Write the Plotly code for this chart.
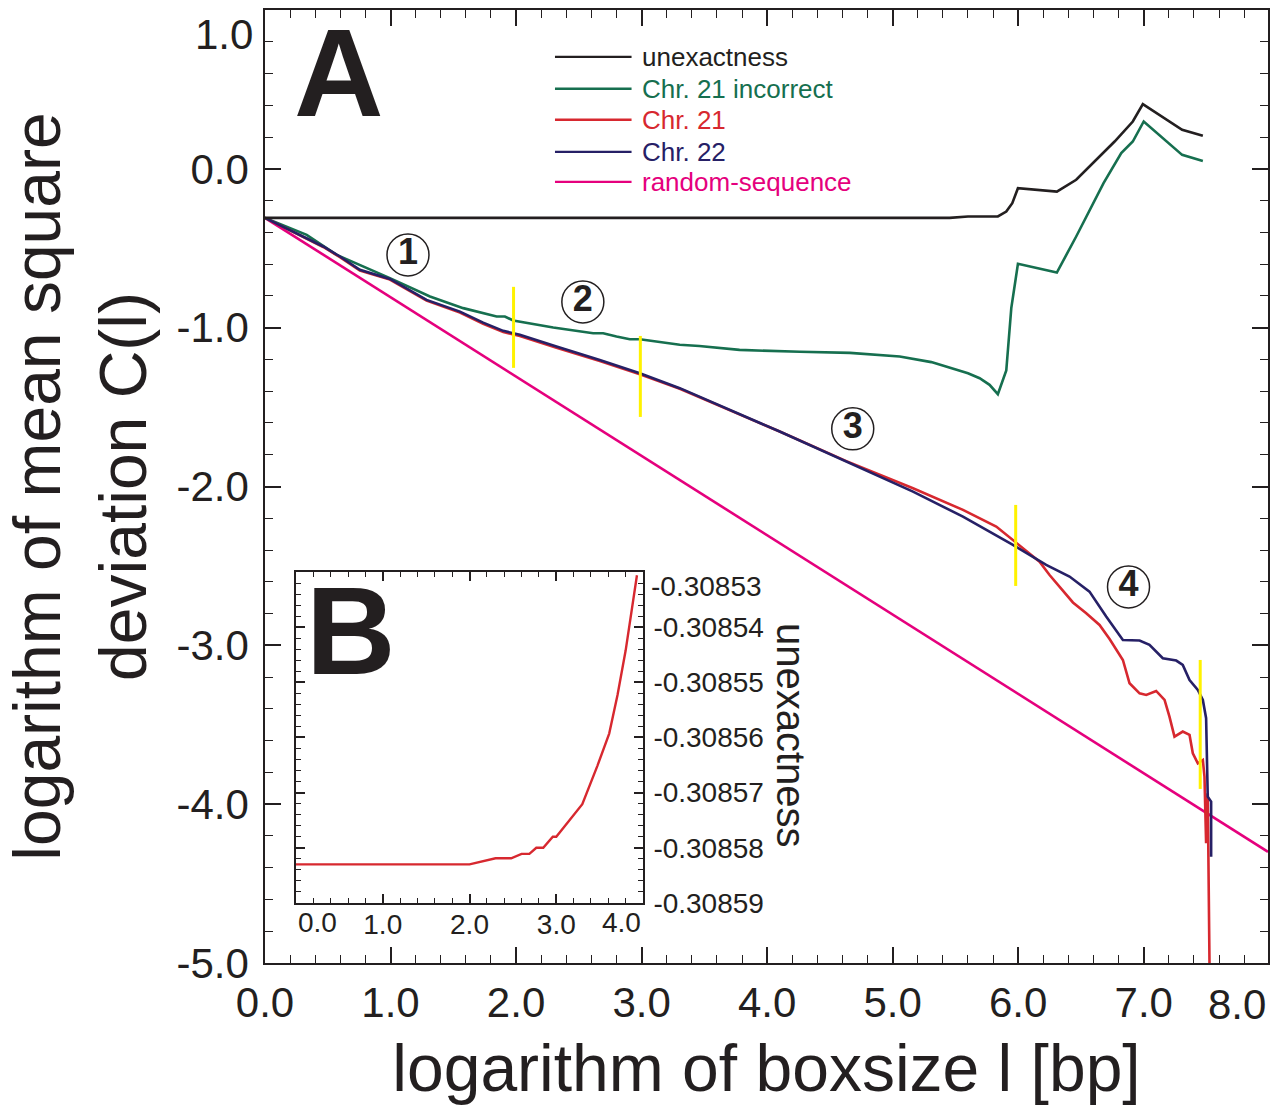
import plotly.graph_objects as go

FONT = "Liberation Sans, Arial, Helvetica, sans-serif"
C_BLACK = "#231f20"
C_GREEN = "#166f4f"
C_RED = "#d7282f"
C_NAVY = "#262066"
C_MAG = "#e5007d"
C_YEL = "#fff200"

# ---------------- data ----------------
unex_x = [0, 5.454, 5.60, 5.838, 5.905, 5.953, 5.998, 6.308, 6.462, 6.768, 6.913, 6.993, 7.306, 7.471]
unex_y = [-0.30858, -0.30858, -0.300, -0.300, -0.269, -0.216, -0.122, -0.143, -0.069, 0.172, 0.298, 0.407, 0.246, 0.208]

inc_x = [0, 0.332, 0.571, 0.849, 0.995, 1.314, 1.579, 1.845, 1.911, 1.977, 2.296, 2.614, 2.694, 2.800,
         2.906, 2.986, 3.304, 3.46, 3.78, 4.26, 4.66, 5.056, 5.308, 5.60, 5.693, 5.772, 5.838, 5.905,
         5.945, 5.998, 6.308, 6.462, 6.680, 6.821, 6.913, 7.0, 7.306, 7.471]
inc_y = [-0.3086, -0.416, -0.542, -0.636, -0.688, -0.804, -0.877, -0.930, -0.930, -0.955, -0.999, -1.035,
         -1.035, -1.056, -1.073, -1.073, -1.108, -1.115, -1.14, -1.152, -1.159, -1.182, -1.217, -1.287,
         -1.318, -1.360, -1.419, -1.270, -0.877, -0.598, -0.653, -0.426, -0.090, 0.099, 0.172, 0.298,
         0.088, 0.050]

chr21_x = [0, 0.464, 0.597, 0.756, 0.995, 1.287, 1.553, 1.738, 1.898, 2.030, 2.322, 2.667, 2.986, 3.304,
           4.10, 4.631, 5.162, 5.56, 5.825, 5.958, 6.170, 6.25, 6.369, 6.436, 6.542, 6.648, 6.728, 6.834,
           6.887, 6.967, 7.02, 7.099, 7.166, 7.205, 7.245, 7.311, 7.365, 7.391, 7.431, 7.471, 7.484,
           7.497, 7.51, 7.524]
chr21_y = [-0.3086, -0.492, -0.556, -0.640, -0.697, -0.830, -0.905, -0.975, -1.027, -1.052, -1.126, -1.210,
           -1.294, -1.385, -1.654, -1.840, -2.011, -2.147, -2.252, -2.336, -2.473, -2.557, -2.672, -2.730,
           -2.798, -2.872, -2.960, -3.092, -3.239, -3.302, -3.312, -3.287, -3.344, -3.449, -3.575, -3.543,
           -3.564, -3.680, -3.743, -3.722, -3.827, -4.246, -3.931, -5.0]

chr22_x = [0, 0.464, 0.597, 0.756, 0.995, 1.287, 1.553, 1.738, 1.898, 2.030, 2.322, 2.667, 2.986, 3.304,
           4.10, 4.631, 5.162, 5.56, 5.958, 6.223, 6.409, 6.568, 6.701, 6.834, 6.967, 7.046, 7.152, 7.259,
           7.311, 7.365, 7.431, 7.471, 7.497, 7.510, 7.537, 7.537]
chr22_y = [-0.3086, -0.489, -0.552, -0.636, -0.693, -0.825, -0.899, -0.968, -1.020, -1.045, -1.119, -1.203,
           -1.287, -1.381, -1.654, -1.843, -2.032, -2.19, -2.368, -2.494, -2.567, -2.662, -2.819, -2.966,
           -2.970, -2.997, -3.081, -3.096, -3.123, -3.218, -3.281, -3.344, -3.459, -3.953, -3.984, -4.331]

rand_x = [0, 7.99]
rand_y = [-0.3086, -4.30]

# yellow region separators
sep_x = [1.98, 2.99, 5.98, 7.45]
sep_y0 = [-0.743, -1.052, -2.116, -3.092]
sep_y1 = [-1.253, -1.562, -2.626, -3.904]

# circled region numbers
reg_x = [1.139, 2.532, 4.682, 6.879]
reg_y = [-0.542, -0.838, -1.637, -2.632]
reg_lab = ["1", "2", "3", "4"]

# inset B: unexactness (zoom)
ins_x = [0, 2.0, 2.30, 2.48, 2.60, 2.69, 2.77, 2.85, 2.96, 3.00, 3.30, 3.475, 3.61, 3.706, 3.80, 3.93]
ins_y = [-0.3085830, -0.3085830, -0.3085819, -0.3085819, -0.3085811, -0.3085811, -0.3085800, -0.3085800,
         -0.3085780, -0.3085780, -0.3085721, -0.3085651, -0.3085593, -0.3085523, -0.3085442, -0.3085306]

# tick labels
main_x_ticks = [0, 1, 2, 3, 4, 5, 6, 7]
main_x_text = ["0.0", "1.0", "2.0", "3.0", "4.0", "5.0", "6.0", "7.0"]
main_y_ticks = [-5, -4, -3, -2, -1, 0]
main_y_text = ["-5.0", "-4.0", "-3.0", "-2.0", "-1.0", "0.0"]
ins_x_ticks = [1, 2, 3]
ins_x_text = ["1.0", "2.0", "3.0"]
ins_y_ticks = [-0.30859, -0.30858, -0.30857, -0.30856, -0.30855, -0.30854]
ins_y_text = ["-0.30859", "-0.30858", "-0.30857", "-0.30856", "-0.30855", "-0.30854"]

legend_names = ["unexactness", "Chr. 21 incorrect", "Chr. 21", "Chr. 22", "random-sequence"]
legend_colors = [C_BLACK, C_GREEN, C_RED, C_NAVY, C_MAG]
legend_y = [0.705, 0.504, 0.309, 0.107, -0.082]

# ---------------- figure ----------------
fig = go.Figure()
LW = 2.6
fig.add_trace(go.Scatter(x=rand_x, y=rand_y, mode="lines", line=dict(color=C_MAG, width=LW), showlegend=False))
fig.add_trace(go.Scatter(x=inc_x, y=inc_y, mode="lines", line=dict(color=C_GREEN, width=LW), showlegend=False))
fig.add_trace(go.Scatter(x=chr21_x, y=chr21_y, mode="lines", line=dict(color=C_RED, width=LW), showlegend=False))
fig.add_trace(go.Scatter(x=chr22_x, y=chr22_y, mode="lines", line=dict(color=C_NAVY, width=LW), showlegend=False))
fig.add_trace(go.Scatter(x=unex_x, y=unex_y, mode="lines", line=dict(color=C_BLACK, width=LW), showlegend=False))

yx, yy = [], []
for xv, a, b in zip(sep_x, sep_y0, sep_y1):
    yx += [xv, xv, None]
    yy += [a, b, None]
fig.add_trace(go.Scatter(x=yx, y=yy, mode="lines", line=dict(color=C_YEL, width=3), showlegend=False))

fig.add_trace(go.Scatter(
    x=reg_x, y=reg_y, mode="markers+text",
    marker=dict(symbol="circle-open", size=42, color=C_BLACK, line=dict(width=1.5, color=C_BLACK)),
    text=["<b>%s</b>" % t for t in reg_lab], textposition="middle center",
    textfont=dict(family=FONT, size=36, color=C_BLACK), showlegend=False))

fig.add_trace(go.Scatter(x=ins_x, y=ins_y, mode="lines", xaxis="x2", yaxis="y2",
                         line=dict(color=C_RED, width=2.4), showlegend=False))

# legend (manual, to match line-sample length and coloured labels)
shapes = []
annotations = []
for name, col, ly in zip(legend_names, legend_colors, legend_y):
    shapes.append(dict(type="line", xref="x", yref="y", x0=2.31, x1=2.92, y0=ly, y1=ly,
                       line=dict(color=col, width=2.4)))
    annotations.append(dict(xref="x", yref="y", x=2.985, y=ly, text=name, showarrow=False,
                            xanchor="left", yanchor="middle", font=dict(family=FONT, size=26, color=col)))

tick_font = dict(family=FONT, size=42, color=C_BLACK)
ins_font = dict(family=FONT, size=28, color=C_BLACK)

IN_X0, IN_X1 = 0.0309, 0.3769
IN_Y0, IN_Y1 = 0.063, 0.4103

# clipped end labels, drawn inside as in the original
annotations += [
    dict(xref="paper", yref="paper", x=0, y=1.0, text="1.0", showarrow=False, xanchor="right", yanchor="top",
         xshift=-10, yshift=1, font=tick_font),
    dict(xref="paper", yref="paper", x=1.0, y=0, text="8.0", showarrow=False, xanchor="right", yanchor="top",
         yshift=-16, font=tick_font),
    dict(xref="paper", yref="paper", x=IN_X0, y=IN_Y0, text="0.0", showarrow=False, xanchor="left",
         yanchor="top", yshift=-2, font=ins_font),
    dict(xref="paper", yref="paper", x=IN_X1, y=IN_Y0, text="4.0", showarrow=False, xanchor="right",
         yanchor="top", yshift=-2, font=ins_font),
    dict(xref="paper", yref="paper", x=IN_X1, y=IN_Y1, text="-0.30853", showarrow=False, xanchor="left",
         yanchor="top", xshift=6, yshift=3, font=ins_font),
    dict(xref="paper", yref="paper", x=0.5244, y=0.2382, text="unexactness", textangle=90, showarrow=False,
         xanchor="center", yanchor="middle", font=dict(family=FONT, size=40, color=C_BLACK)),
    dict(xref="paper", yref="paper", x=0.0733, y=0.9337, text="<b>A</b>", showarrow=False,
         xanchor="center", yanchor="middle", font=dict(family=FONT, size=124, color=C_BLACK)),
    dict(xref="paper", yref="paper", x=0.0862, y=0.3482, text="<b>B</b>", showarrow=False,
         xanchor="center", yanchor="middle", font=dict(family=FONT, size=124, color=C_BLACK)),
]

axis_common = dict(showline=True, linecolor=C_BLACK, linewidth=1.5, mirror="ticks", ticks="inside",
                   tickcolor=C_BLACK, tickwidth=1.5, showgrid=False, zeroline=False, automargin=False)

fig.update_layout(
    width=1278, height=1107,
    margin=dict(l=265, r=10, t=10, b=144, autoexpand=False),
    paper_bgcolor="white", plot_bgcolor="white",
    showlegend=False,
    font=dict(family=FONT, color=C_BLACK),
    xaxis=dict(**axis_common, range=[0, 7.99], tickmode="array", tickvals=main_x_ticks, ticktext=main_x_text,
               ticklen=16, tickfont=tick_font, ticklabelstandoff=2,
               minor=dict(tickmode="linear", dtick=0.2, tick0=0, ticks="inside", ticklen=8, tickcolor=C_BLACK,
                          tickwidth=1.2),
               title=dict(text="logarithm of boxsize l [bp]", font=dict(family=FONT, size=66, color=C_BLACK),
                          standoff=20)),
    yaxis=dict(**axis_common, range=[-5, 1.0], tickmode="array", tickvals=main_y_ticks, ticktext=main_y_text,
               ticklen=16, tickfont=tick_font, ticklabelstandoff=6,
               minor=dict(tickmode="linear", dtick=0.2, tick0=0, ticks="inside", ticklen=8, tickcolor=C_BLACK,
                          tickwidth=1.2),
               title=dict(text="logarithm of mean square<br>deviation C(l)",
                          font=dict(family=FONT, size=66, color=C_BLACK), standoff=36)),
    xaxis2=dict(**axis_common, domain=[IN_X0, IN_X1], anchor="y2", range=[0, 4.0],
                tickmode="array", tickvals=ins_x_ticks, ticktext=ins_x_text, ticklen=9, tickfont=ins_font,
                ticklabelstandoff=-4,
                minor=dict(tickmode="linear", dtick=0.2, tick0=0, ticks="inside", ticklen=5, tickcolor=C_BLACK,
                           tickwidth=1)),
    yaxis2=dict(**axis_common, domain=[IN_Y0, IN_Y1], anchor="x2", side="right",
                range=[-0.30859, -0.30853], tickmode="array", tickvals=ins_y_ticks, ticktext=ins_y_text,
                ticklen=9, tickfont=ins_font, ticklabelstandoff=3,
                minor=dict(tickmode="linear", dtick=0.000002, tick0=-0.30859, ticks="inside", ticklen=5,
                           tickcolor=C_BLACK, tickwidth=1)),
    shapes=shapes,
    annotations=annotations,
)

fig.write_html("out.html")
